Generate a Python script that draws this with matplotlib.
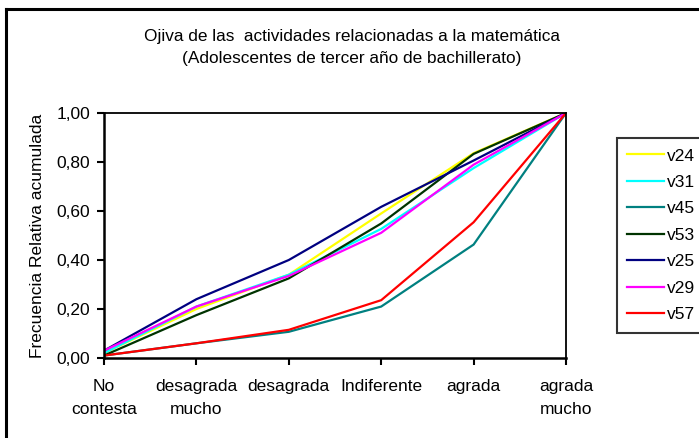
import matplotlib
matplotlib.use("Agg")
import matplotlib.pyplot as plt
from matplotlib.lines import Line2D

plt.rcParams['font.family'] = ['Liberation Sans', 'DejaVu Sans']

categories = ["No\ncontesta", "desagrada\nmucho", "desagrada", "Indiferente", "agrada", "agrada\nmucho"]
series_names = ["v24", "v31", "v45", "v53", "v25", "v29", "v57"]
v24 = [0.02, 0.20, 0.34, 0.59, 0.836, 1.00]
v31 = [0.02, 0.21, 0.34, 0.527, 0.775, 1.00]
v45 = [0.01, 0.06, 0.107, 0.21, 0.463, 1.00]
v53 = [0.01, 0.175, 0.325, 0.549, 0.833, 1.00]
v25 = [0.03, 0.24, 0.40, 0.617, 0.806, 1.00]
v29 = [0.03, 0.21, 0.335, 0.511, 0.789, 1.00]
v57 = [0.01, 0.06, 0.115, 0.236, 0.554, 1.00]
series_values = [v24, v31, v45, v53, v25, v29, v57]
colors = ["#FFFF00", "#00FFFF", "#008080", "#003300", "#000080", "#FF00FF", "#FF0000"]
yticks = [0.0, 0.2, 0.4, 0.6, 0.8, 1.0]
ytick_labels = ["0,00", "0,20", "0,40", "0,60", "0,80", "1,00"]

W, H = 699, 438
FS = 12.5
fig = plt.figure(figsize=(W / 100, H / 100), dpi=100)
ax = fig.add_axes([104 / W, 1 - 358 / H, (566 - 104) / W, (358 - 113) / H])

x = list(range(len(categories)))
handles = []
for name, vals, c in zip(series_names, series_values, colors):
    h, = ax.plot(x, vals, color=c, lw=1.6, label=name, solid_joinstyle='miter')
    handles.append(h)

ax.set_xlim(0, len(categories) - 1)
ax.set_ylim(0, 1)
ax.set_xticks(x)
ax.set_xticklabels(categories, fontsize=FS, linespacing=1.7, va='top')
ax.set_yticks(yticks)
ax.set_yticklabels(ytick_labels, fontsize=FS)
ax.tick_params(axis='both', direction='out', length=5, width=1.5, color='black')
ax.tick_params(axis='x', pad=10)
ax.tick_params(axis='y', pad=5)
for s in ['left', 'bottom']:
    ax.spines[s].set_linewidth(1.8)
for s in ['top', 'right']:
    ax.spines[s].set_linewidth(1.3)

ax.set_ylabel("Frecuencia Relativa acumulada", fontsize=FS)
ax.yaxis.set_label_coords(-0.128, 0.5)

fig.text(352 / W, 1 - 36 / H, "Ojiva de las  actividades relacionadas a la matemática",
         ha='center', va='center', fontsize=12.4)
fig.text(352 / W, 1 - 58 / H, "(Adolescentes de tercer año de bachillerato)",
         ha='center', va='center', fontsize=12.4)

leg = fig.legend(handles=handles, loc='upper left', bbox_to_anchor=(617 / W, 1 - 138 / H),
                 fontsize=FS, frameon=True, fancybox=False, shadow=False,
                 handlelength=2.1, handletextpad=0.15, labelspacing=0.65,
                 borderpad=0.6, borderaxespad=0)
leg.get_frame().set_edgecolor('black')
leg.get_frame().set_linewidth(1.5)

# partial chart-area border (top and left)
fig.add_artist(Line2D([6 / W, 6 / W], [0, 1 - 9 / H], color='black', lw=2.2,
                      transform=fig.transFigure))
fig.add_artist(Line2D([6 / W, 1], [1 - 9 / H, 1 - 9 / H], color='black', lw=2.2,
                      transform=fig.transFigure))

fig.savefig("out.png", dpi=100)
